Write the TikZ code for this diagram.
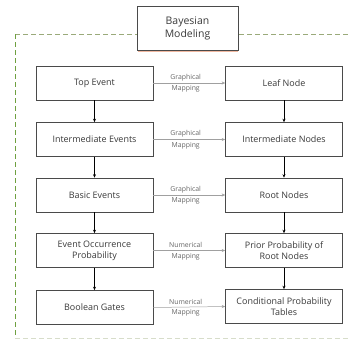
\documentclass[tikz,border=0pt]{standalone}
\usepackage{fontspec}
\setmainfont{Open Sans}
\usetikzlibrary{arrows.meta}
\definecolor{frameolive}{HTML}{9AAA7A}
\definecolor{framegreen}{HTML}{6FA040}
\definecolor{boxline}{HTML}{4A4A4A}
\definecolor{txt}{HTML}{3A3A3A}
\definecolor{maparrow}{HTML}{A0A0A0}
\definecolor{shadoworange}{HTML}{F0B8A0}
\tikzset{
  stagebox/.style={draw=boxline, line width=0.6pt, fill=white, minimum width=117bp,
    minimum height=34bp, align=center, font=\fontsize{9}{11}\selectfont, text=txt, inner sep=1pt},
  downarrow/.style={draw=black, line width=0.7pt, -{Stealth[length=3.5bp,width=3bp]}},
  maparrowstyle/.style={draw=maparrow, line width=0.5pt, -{Stealth[length=3.5bp,width=3bp]}},
  maplabel/.style={font=\fontsize{6.9}{8}\selectfont, text=black!60, inner sep=0pt},
}
\begin{document}
\begin{tikzpicture}[x=1bp, y=-1bp]
  \useasboundingbox (0,0) rectangle (349,339);

  % dashed frame around the model
  \draw[frameolive, dashed, dash pattern=on 5bp off 3bp, line width=0.6pt] (15,34) -- (349,34);
  \draw[framegreen, dashed, dash pattern=on 5bp off 3bp, line width=0.6pt] (15,34) -- (15,339);
  \draw[frameolive!40, dashed, dash pattern=on 5bp off 3bp, line width=0.5pt] (15,338) -- (349,338);

  % title box
  \fill[shadoworange] (138,49) rectangle (238,52);
  \node[draw=boxline, line width=0.6pt, fill=white, minimum width=101bp, minimum height=44bp,
    align=center, font=\fontsize{10.5}{13}\selectfont, text=txt] (bm) at (187.5,28) {Bayesian\\Modeling};

  % fault tree side
  \node[stagebox] (te) at (94.5,83) {Top Event};
  \node[stagebox] (ie) at (94.5,139.5) {Intermediate Events};
  \node[stagebox] (be) at (94.5,195) {Basic Events};
  \node[stagebox] (eo) at (94.5,250.5) {Event Occurrence\\Probability};
  \node[stagebox] (bg) at (94.5,307.5) {Boolean Gates};

  % Bayesian network side
  \node[stagebox] (ln) at (284,83) {Leaf Node};
  \node[stagebox] (in) at (284,139.5) {Intermediate Nodes};
  \node[stagebox] (rn) at (284,195) {Root Nodes};
  \node[stagebox] (pp) at (284,250.5) {Prior Probability of\\Root Nodes};
  \node[stagebox] (cp) at (284,306.5) {Conditional Probability\\Tables};

  % vertical flow
  \foreach \a/\b in {te/ie, ie/be, be/eo, eo/bg, ln/in, in/rn, rn/pp, pp/cp}
    \draw[downarrow] (\a.south) -- (\b.north);

  % mappings
  \foreach \a/\b/\kind in {te/ln/Graphical, ie/in/Graphical, be/rn/Graphical, eo/pp/Numerical, bg/cp/Numerical}{
    \draw[maparrowstyle] (\a.east) -- (\b.west);
    \path (\a.east) -- (\b.west)
      node[maplabel, pos=0.45, yshift=5.5bp] {\kind}
      node[maplabel, pos=0.45, yshift=-6bp] {Mapping};
  }
\end{tikzpicture}
\end{document}
